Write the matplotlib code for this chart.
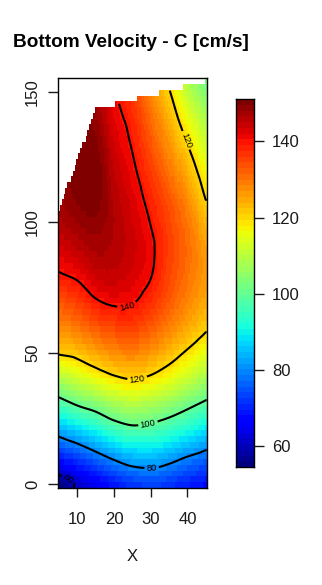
import numpy as np
import matplotlib
matplotlib.use("Agg")
import matplotlib.pyplot as plt
import matplotlib.tri as mtri
from matplotlib.colors import Normalize

plt.rcParams['font.family'] = ['Liberation Sans', 'DejaVu Sans']

# ---- data ----
x_grid = [5, 10, 15, 20, 25, 30, 35, 40, 45]
y_grid = [0, 10, 20, 30, 40, 50, 60, 70, 80, 90, 100, 110, 120, 130, 140, 150, 160]
v_x5 = [55, 69.5, 82.5, 96, 108.5, 120.5, 127.5, 133.5, 139.5, 143, 146, 147.5, 148, 148, 147.5, 147, 146]
v_x10 = [61, 73, 86, 100, 112, 122, 130, 136, 141, 145, 148, 150, 151, 150.5, 150, 149, 148]
v_x15 = [65, 77, 90, 103, 115.5, 125, 133, 139.5, 144, 147, 149, 150.5, 151, 150, 148.5, 147, 145.5]
v_x20 = [69, 81, 94.5, 107, 118.5, 127.5, 135, 141, 144.5, 146, 146.5, 146, 145, 143.5, 142, 140.5, 139]
v_x25 = [72, 84, 97, 109, 120, 128.5, 135.5, 140.5, 143, 144, 143.5, 142.5, 141, 139.5, 138, 136, 134]
v_x30 = [73, 84.5, 96.5, 107.5, 118.5, 126.5, 133, 137.5, 140.3, 141, 139.8, 138, 136, 133.5, 131, 128, 125]
v_x35 = [72, 82.5, 94, 105, 115.5, 123, 129, 133, 135, 135.5, 135, 133, 130, 127, 124, 120.5, 116.5]
v_x40 = [70, 79.5, 91, 101.5, 111.5, 119, 125, 128.5, 130.5, 131, 130, 127.5, 124, 120, 115.5, 110.5, 105.5]
v_x45 = [68, 77, 87.5, 98, 107.5, 115, 121, 124.5, 126, 125.5, 123, 119.5, 116, 112, 108, 103.5, 99]
columns = [v_x5, v_x10, v_x15, v_x20, v_x25, v_x30, v_x35, v_x40, v_x45]

# upper edge of the surveyed area
top_x = [4.74, 5, 15, 45.26]
top_y = [104.8, 104.8, 143.3, 154.2]

contour_levels = [60, 80, 100, 120, 140]
cbar_ticks = [60, 80, 100, 120, 140]
x_ticks = [10, 20, 30, 40]
y_ticks = [0, 50, 100, 150]
xlim = (4.74, 45.26)
ylim = (-1.53, 155.1)

# ---- surface via matplotlib's triangulation interpolator ----
X, Y = np.meshgrid(x_grid, y_grid)
Z = np.array(columns).T
tri = mtri.Triangulation(X.ravel(), Y.ravel())
interp = mtri.CubicTriInterpolator(tri, Z.ravel(), kind='geom')

def field(xx, yy):
    xc = np.clip(xx, x_grid[0], x_grid[-1])
    yc = np.clip(yy, y_grid[0], y_grid[-1])
    zz = interp(xc, yc)
    top = np.interp(xx, top_x, top_y)
    return np.ma.masked_where(yy > top, zz)

vmin = float(np.min(Z)) - 0.3
vmax = float(np.max(Z))
cmap = plt.get_cmap('jet').resampled(64)
norm = Normalize(vmin=vmin, vmax=vmax)

fig = plt.figure(figsize=(3.22, 5.85), dpi=100)
W, H = 322, 585
ax = fig.add_axes([58 / W, (H - 488) / H, 148.7 / W, (488 - 78.3) / H])

xe = np.linspace(xlim[0], xlim[1], 82)
ye = np.linspace(ylim[0], ylim[1], 72)
xcen = 0.5 * (xe[:-1] + xe[1:])
ycen = 0.5 * (ye[:-1] + ye[1:])
XC, YC = np.meshgrid(xcen, ycen)
ZC = field(XC, YC)
ax.pcolormesh(xe, ye, ZC, cmap=cmap, norm=norm, shading='flat',
              edgecolors='none', antialiased=False)

xf = np.linspace(xlim[0], xlim[1], 300)
yf = np.linspace(ylim[0], ylim[1], 500)
XF, YF = np.meshgrid(xf, yf)
ZF = field(XF, YF)
cs = ax.contour(XF, YF, ZF, levels=contour_levels, colors='black', linewidths=1.5)
label_pos = [(7.3, 1.5), (30.3, 5.7), (29.4, 21.9), (26.4, 39.5), (23.6, 67.6), (39.8, 131.5)]
ax.clabel(cs, fontsize=6.8, inline=True, inline_spacing=2, fmt='%d', manual=label_pos)

ax.set_xlim(*xlim)
ax.set_ylim(*ylim)
ax.set_xticks(x_ticks)
ax.set_yticks(y_ticks)
ax.tick_params(axis='x', direction='out', length=6.5, width=1, pad=10.5, labelsize=12, colors='#1a1a1a')
ax.tick_params(axis='y', direction='out', length=7, width=1, pad=6, labelsize=12, colors='#1a1a1a')
for lbl in ax.get_yticklabels():
    lbl.set_rotation(90)
    lbl.set_va('center')
for s in ax.spines.values():
    s.set_linewidth(1)
    s.set_color('black')

fig.text(13 / W, 1 - 46.7 / H, 'Bottom Velocity - C [cm/s]', fontsize=13.7,
         fontweight='bold', ha='left', va='baseline')
fig.text(132.4 / W, 1 - 556.7 / H, 'X', fontsize=12, ha='center', va='center', color='#1a1a1a')

# ---- colour bar (legend strip drawn from the same cmap / norm) ----
cax = fig.add_axes([236 / W, (H - 466.7) / H, 17.7 / W, 367.4 / H])
strip = np.linspace(vmin, vmax, 64)[:, None]
cax.imshow(strip, cmap=cmap, norm=norm, aspect='auto', origin='lower',
           extent=[0, 1, vmin, vmax], interpolation='nearest')
cax.set_xlim(0, 1)
cax.set_ylim(vmin, vmax)
cax.set_xticks([])
cax.set_yticks(cbar_ticks)
cax.yaxis.tick_right()
cax.tick_params(axis='y', direction='out', length=7, width=1, pad=6,
                labelsize=12, colors='#1a1a1a', left=False, right=True,
                labelleft=False, labelright=True)
for s in cax.spines.values():
    s.set_linewidth(1)
    s.set_color('black')

fig.savefig('out.png', dpi=100)
